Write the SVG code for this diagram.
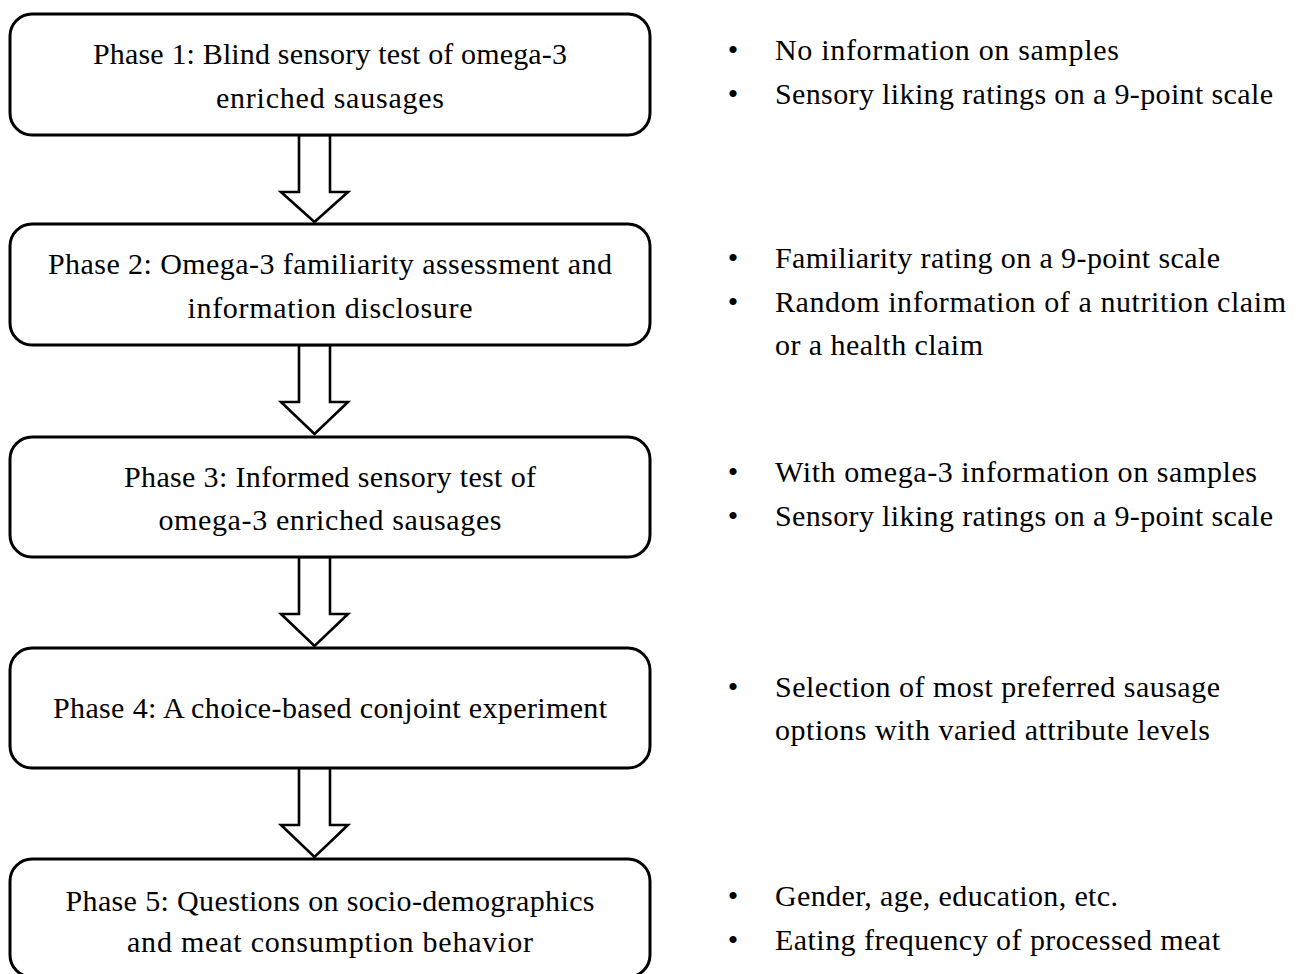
<svg xmlns="http://www.w3.org/2000/svg" width="1299" height="974" viewBox="0 0 1299 974">
<style>
.box{fill:#fff;stroke:#000;stroke-width:3}
.arr{fill:#fff;stroke:#000;stroke-width:2.6;stroke-linejoin:miter}
.t{font-family:"Liberation Serif","Times New Roman",serif;font-size:30px;fill:#000}
.c{text-anchor:middle}
.b{text-anchor:middle}
</style>
<rect width="1299" height="974" fill="#fff"/>
<g id="connectors">
<polygon class="arr" points="299,135 330,135 330,192 348,192 314.5,222 281,192 299,192"/>
<polygon class="arr" points="299,345 330,345 330,402 348,402 314.5,434 281,402 299,402"/>
<polygon class="arr" points="299,557 330,557 330,614 348,614 314.5,646 281,614 299,614"/>
<polygon class="arr" points="299,768 330,768 330,825 348,825 314.5,857 281,825 299,825"/>
</g>
<g id="phase1">
<rect class="box" x="10" y="14" width="640" height="121" rx="22"/>
<text class="t c" x="330" y="64" textLength="474">Phase 1: Blind sensory test of omega-3</text>
<text class="t c" x="330" y="108" textLength="228">enriched sausages</text>
</g>
<g id="phase2">
<rect class="box" x="10" y="224" width="640" height="121" rx="22"/>
<text class="t c" x="330" y="274" textLength="564">Phase 2: Omega-3 familiarity assessment and</text>
<text class="t c" x="330" y="318" textLength="285">information disclosure</text>
</g>
<g id="phase3">
<rect class="box" x="10" y="437" width="640" height="120" rx="22"/>
<text class="t c" x="330" y="487" textLength="412">Phase 3: Informed sensory test of</text>
<text class="t c" x="330" y="530" textLength="343">omega-3 enriched sausages</text>
</g>
<g id="phase4">
<rect class="box" x="10" y="648" width="640" height="120" rx="22"/>
<text class="t c" x="330" y="718" textLength="554">Phase 4: A choice-based conjoint experiment</text>
</g>
<g id="phase5">
<rect class="box" x="10" y="859" width="640" height="118" rx="22"/>
<text class="t c" x="330" y="911" textLength="529">Phase 5: Questions on socio-demographics</text>
<text class="t c" x="330" y="952" textLength="406">and meat consumption behavior</text>
</g>
<g id="notes1">
<text class="t b" x="733" y="60">•</text>
<text class="t" x="775" y="60" textLength="344">No information on samples</text>
<text class="t b" x="733" y="104">•</text>
<text class="t" x="775" y="104" textLength="498">Sensory liking ratings on a 9-point scale</text>
</g>
<g id="notes2">
<text class="t b" x="733" y="268">•</text>
<text class="t" x="775" y="268" textLength="445">Familiarity rating on a 9-point scale</text>
<text class="t b" x="733" y="312">•</text>
<text class="t" x="775" y="312" textLength="511">Random information of a nutrition claim</text>
<text class="t" x="775" y="355" textLength="208">or a health claim</text>
</g>
<g id="notes3">
<text class="t b" x="733" y="482">•</text>
<text class="t" x="775" y="482" textLength="482">With omega-3 information on samples</text>
<text class="t b" x="733" y="526">•</text>
<text class="t" x="775" y="526" textLength="498">Sensory liking ratings on a 9-point scale</text>
</g>
<g id="notes4">
<text class="t b" x="733" y="697">•</text>
<text class="t" x="775" y="697" textLength="445">Selection of most preferred sausage</text>
<text class="t" x="775" y="740" textLength="435">options with varied attribute levels</text>
</g>
<g id="notes5">
<text class="t b" x="733" y="906">•</text>
<text class="t" x="775" y="906" textLength="343">Gender, age, education, etc.</text>
<text class="t b" x="733" y="950">•</text>
<text class="t" x="775" y="950" textLength="445">Eating frequency of processed meat</text>
</g>
</svg>
